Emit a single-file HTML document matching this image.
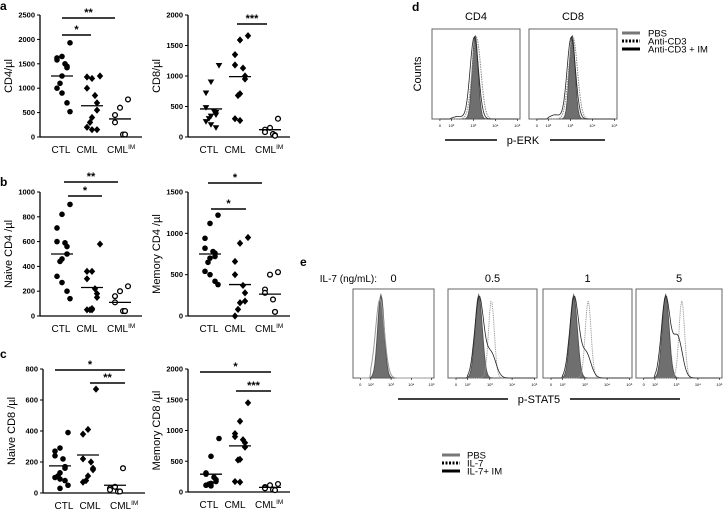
<!DOCTYPE html>
<html><head><meta charset="utf-8"><style>
body{margin:0;background:#fff;}
svg{display:block;font-family:"Liberation Sans",Arial,sans-serif;}
</style></head><body>
<svg id="fig" width="727" height="510" viewBox="0 0 727 510">
<g id="root"></g>
</svg>
<script>
// ---------- scatter data ----------
const groups = ["CTL","CML","CMLIM"];
const aCD4_ctl=[1930,1650,1620,1580,1500,1450,1420,1250,1100,1000,900,700,520];
const aCD4_cml=[1250,1200,1230,1000,850,700,550,400,300,200,150,150];
const aCD4_im=[770,600,450,300,50,50];
const aCD4_mean=[1250,640,370];
const aCD8_ctl=[1170,900,720,480,420,400,360,340,300,250,200,150];
const aCD8_cml=[1660,1590,1350,1180,1130,1000,950,710,680,300,270];
const aCD8_im=[300,150,120,80,50,30,20];
const aCD8_mean=[460,990,120];
const bN4_ctl=[900,820,710,600,590,560,500,460,440,320,270,200,140];
const bN4_cml=[580,360,360,300,220,180,150,60,50,50,50];
const bN4_im=[240,200,160,110,40,40,40];
const bN4_mean=[500,230,110];
const bM4_ctl=[1220,1120,940,820,780,760,720,700,650,540,500,420,380];
const bM4_cml=[950,880,660,500,370,280,180,160,80,0];
const bM4_im=[530,500,320,280,200,50,50];
const bM4_mean=[750,380,265];
const cN8_ctl=[390,290,270,240,220,170,160,130,110,100,90,80,50,30];
const cN8_cml=[670,410,380,220,200,160,150,110,80,70];
const cN8_im=[160,40,30,20,10,10];
const cN8_mean=[175,245,50];
const cM8_ctl=[870,580,310,290,240,200,170,140,130,110,100];
const cM8_cml=[1450,1150,950,900,850,800,730,530,520,170,160];
const cM8_im=[130,110,80,60,40,30];
const cM8_mean=[290,750,75];
const ticksCD4=[0,500,1000,1500,2000,2500];
const ticksCD8=[0,500,1000,1500,2000];
const ticksN4=[0,200,400,600,800,1000];
const ticksM4=[0,500,1000,1500];
const ticksN8=[0,200,400,600,800];
const ticksM8=[0,500,1000,1500,2000];
// ---------- histogram data (peak position in log10 decades) ----------
const dPeaks_pbs=[3.08,3.08];
const dPeaks_cd3=[3.14,3.12];
const dPeaks_im=[3.04,3.04];
const eIL7=["0","0.5","1","5"];
const ePeak_pbs=[2.5,2.5,2.5,2.5];
const ePeak_il7=[2.45,3.07,3.15,3.25];
const ePeak_im=[2.5,2.52,2.52,2.5];
const eIM_shoulder=[0,0.3,0.3,0.5];

const NS="http://www.w3.org/2000/svg";
const root=document.getElementById('root');
function el(tag,attrs,parent){const e=document.createElementNS(NS,tag);for(const k in attrs)e.setAttribute(k,attrs[k]);(parent||root).appendChild(e);return e;}
function txt(x,y,s,size,attrs,parent){const t=el('text',Object.assign({x:x,y:y,'font-size':size},attrs||{}),parent);t.textContent=s;return t;}

function marker(g,shape,x,y){
  let m;
  if(shape==='circle') m=el('circle',{cx:x,cy:y,r:2.8,fill:'#000'},g);
  else if(shape==='open') m=el('circle',{cx:x,cy:y,r:2.4,fill:'#fff',stroke:'#000','stroke-width':1.3},g);
  else if(shape==='diamond') m=el('path',{d:`M${x},${y-3.6}L${x+3.2},${y}L${x},${y+3.6}L${x-3.2},${y}Z`,fill:'#000'},g);
  else m=el('path',{d:`M${x-3.3},${y-2.6}L${x+3.3},${y-2.6}L${x},${y+3}Z`,fill:'#000'},g);
  
  
}

function scatter(name,ax,top,bot,ymax,ticks,ylab,series,shapes,means,sig,cats,lab){
  const g=el('g',{});
  
  
  const y=v=>bot-(v/ymax)*(bot-top);
  const xs=cats;
  el('line',{x1:ax,y1:top,x2:ax,y2:bot,stroke:'#000','stroke-width':1.3},g);
  el('line',{x1:ax,y1:bot,x2:ax+102,y2:bot,stroke:'#000','stroke-width':1.3},g);
  ticks.forEach(t=>{
    el('line',{x1:ax-3,y1:y(t),x2:ax,y2:y(t),stroke:'#000','stroke-width':1},g);
    const tl=txt(ax-5,y(t)+2.5,String(t),7.5,{'text-anchor':'end','font-weight':'bold'},g);
    
  });
  const yl=txt(0,0,ylab,11,{'text-anchor':'middle',transform:`translate(${ax-28},${(top+bot)/2}) rotate(-90)`},g);
  
  const lx=[ax+21,ax+47,ax+67];
  ['CTL','CML','CML'].forEach((c,i)=>{
    const t=txt(lx[i],bot+16,c,10,{'text-anchor':i==2?'start':'middle'},g);
    
    if(i==2){const s=el('tspan',{'font-size':6.5,dy:-4},t);s.textContent='IM';}
  });
  series.forEach((arr,i)=>{
    arr.forEach((v,j)=>{
      const off=((j%3)-1)*5*(j%2?1:-1)+(j%4==0?3:0);
      marker(g,shapes[i],xs[i]+off,y(v));
    });
    const ml=el('line',{x1:xs[i]-11,y1:y(means[i]),x2:xs[i]+11,y2:y(means[i]),stroke:'#000','stroke-width':1.3},g);
    
  });
  sig.forEach(s=>{
    const b=el('line',{x1:s[0],y1:s[2],x2:s[1],y2:s[2],stroke:'#000','stroke-width':1.5},g);
    
    txt((s[0]+s[1])/2,s[2]-2,s[3],11,{'text-anchor':'middle','font-weight':'bold'},g);
  });
  if(lab){const l=txt(lab[0],lab[1],lab[2],12,{'font-weight':'bold'},g);}
}

scatter('panel-a-cd4',40,15,137,2500,ticksCD4,'CD4/µl',[aCD4_ctl,aCD4_cml,aCD4_im],['circle','diamond','open'],aCD4_mean,[[62,115,18,'**'],[62,91,35,'*']],[62,92,120],[0,10,'a']);
scatter('panel-a-cd8',188,15,137,2000,ticksCD8,'CD8/µl',[aCD8_ctl,aCD8_cml,aCD8_im],['tri','diamond','open'],aCD8_mean,[[237,267,24,'***']],[211,240,270],null);
scatter('panel-b-naive-cd4',40,192,316,1000,ticksN4,'Naive CD4 /µl',[bN4_ctl,bN4_cml,bN4_im],['circle','diamond','open'],bN4_mean,[[64,118,182,'**'],[68,102,196,'*']],[62,92,120],[0,186,'b']);
scatter('panel-b-memory-cd4',188,192,316,1500,ticksM4,'Memory CD4 /µl',[bM4_ctl,bM4_cml,bM4_im],['circle','diamond','open'],bM4_mean,[[208,262,183,'*'],[211,246,209,'*']],[210,240,270],null);
scatter('panel-c-naive-cd8',43,369,493,800,ticksN8,'Naive CD8 /µl',[cN8_ctl,cN8_cml,cN8_im],['circle','diamond','open'],cN8_mean,[[55,125,370,'*'],[90,125,383,'**']],[60,88,115],[0,358,'c']);
scatter('panel-c-memory-cd8',188,369,492,2000,ticksM8,'Memory CD8 /µl',[cM8_ctl,cM8_cml,cM8_im],['circle','diamond','open'],cM8_mean,[[200,271,372,'*'],[236,271,391,'***']],[211,240,270],null);

// ---------- histograms ----------
function frac(v){return v<2?0.09+(v/2)*0.13:0.22+(v-2)*0.25;}
function curvePath(x0,w,y0,h,peak,sd,amp,shPeak,shAmp,closed){
  let d='';
  for(let i=0;i<=100;i++){
    const v=i/100*5;
    let val=amp*Math.exp(-0.5*Math.pow((v-peak)/sd,2));
    if(shAmp) val+=shAmp*Math.exp(-0.5*Math.pow((v-shPeak)/0.22,2));
    const px=x0+frac(v)*w, py=y0+h-val*(h-6);
    d+=(i?'L':'M')+px.toFixed(1)+','+py.toFixed(1);
  }
  if(closed) d+='Z';
  return d;
}
function histBox(name,x0,y0,w,h,layers){
  const g=el('g',{});
  
  
  el('rect',{x:x0,y:y0,width:w,height:h,fill:'#fff',stroke:'#666','stroke-width':1},g);
  layers.forEach(L=>{
    const p=el('path',{d:L.d,fill:L.fill||'none',stroke:L.stroke,'stroke-width':L.sw||1,'stroke-dasharray':L.dash||'none'},g);
    
  });
  [0,2,3,4,5].forEach(t=>{
    const px=x0+frac(t)*w;
    el('line',{x1:px,y1:y0+h,x2:px,y2:y0+h+2,stroke:'#000','stroke-width':0.6},g);
    txt(px,y0+h+8,t==0?'0':'10'+String.fromCharCode([0,0,178,179,8308,8309][t]),4,{'text-anchor':'middle'},g);
  });
}
const dX=[432,529];
['CD4','CD8'].forEach((c,i)=>{
  const x0=dX[i],y0=29,w=88,h=90;
  histBox('histogram-'+c.toLowerCase(),x0,y0,w,h,[
    {name:'pbs-fill',d:curvePath(x0,w,y0,h,dPeaks_pbs[i],0.13,1,0,0,true),fill:'#6f6f6f',stroke:'#555'},
    {name:'anti-cd3-line',d:curvePath(x0,w,y0,h,dPeaks_cd3[i],0.2,0.97,0,0,false),stroke:'#888',dash:'1.5,1'},
    {name:'anti-cd3-im-line',d:curvePath(x0,w,y0,h,dPeaks_im[i],0.19,0.98,2.3,i?0.05:0.03,false),stroke:'#222',sw:0.8}
  ]);
  txt(x0+w/2,20,c,11,{'text-anchor':'middle'});
});
txt(412,11,'d',12,{'font-weight':'bold'});
txt(0,0,'Counts',11,{'text-anchor':'middle',transform:'translate(421,74) rotate(-90)'});
el('line',{x1:445,y1:140,x2:497,y2:140,stroke:'#000','stroke-width':1.5});
el('line',{x1:550,y1:140,x2:605,y2:140,stroke:'#000','stroke-width':1.5});
txt(523,144,'p-ERK',11,{'text-anchor':'middle'});
const dLeg=[['PBS','#777','none',3],['Anti-CD3','#000','2,1.5',3],['Anti-CD3 + IM','#000','none',3]];
dLeg.forEach((L,i)=>{
  const y=33+i*8;
  el('line',{x1:622,y1:y,x2:640,y2:y,stroke:L[1],'stroke-width':L[3],'stroke-dasharray':L[2]});
  txt(648,y+3.5,L[0],9.5);
});

const eX=[353,448,543,636];
const eW=[81,89,89,86];
eIL7.forEach((c,i)=>{
  const x0=eX[i],y0=289,w=eW[i],h=89;
  const layers=[{name:'pbs-fill',d:curvePath(x0,w,y0,h,ePeak_pbs[i],0.16,1,0,0,true),fill:'#6f6f6f',stroke:'#555'}];
  if(i==0){
    layers.push({name:'il7-line',d:curvePath(x0,w,y0,h,ePeak_il7[i],0.22,0.95,0,0,false),stroke:'#999'});
  } else {
    layers.push({name:'il7-line',d:curvePath(x0,w,y0,h,ePeak_il7[i],0.13,0.93,0,0,false),stroke:'#999',dash:'1,0.8'});
    layers.push({name:'il7-im-line',d:curvePath(x0,w,y0,h,ePeak_im[i],0.2,0.97,3.05,eIM_shoulder[i],false),stroke:'#222',sw:0.8});
  }
  histBox('histogram-il7-'+c,x0,y0,w,h,layers);
  txt(x0+w/2,282,c,11,{'text-anchor':'middle'});
});
txt(300,266,'e',12,{'font-weight':'bold'});
txt(377,282,'IL-7 (ng/mL):',10,{'text-anchor':'end'});
el('line',{x1:398,y1:399,x2:508,y2:399,stroke:'#000','stroke-width':1.5});
el('line',{x1:570,y1:399,x2:680,y2:399,stroke:'#000','stroke-width':1.5});
txt(539,403,'p-STAT5',11,{'text-anchor':'middle'});
const eLeg=[['PBS','#777','none'],['IL-7','#000','2,1.5'],['IL-7+ IM','#000','none']];
eLeg.forEach((L,i)=>{
  const y=455+i*8;
  el('line',{x1:442,y1:y,x2:460,y2:y,stroke:L[1],'stroke-width':3,'stroke-dasharray':L[2]});
  txt(467,y+3.5,L[0],9.5);
});
</script>
</body></html>
